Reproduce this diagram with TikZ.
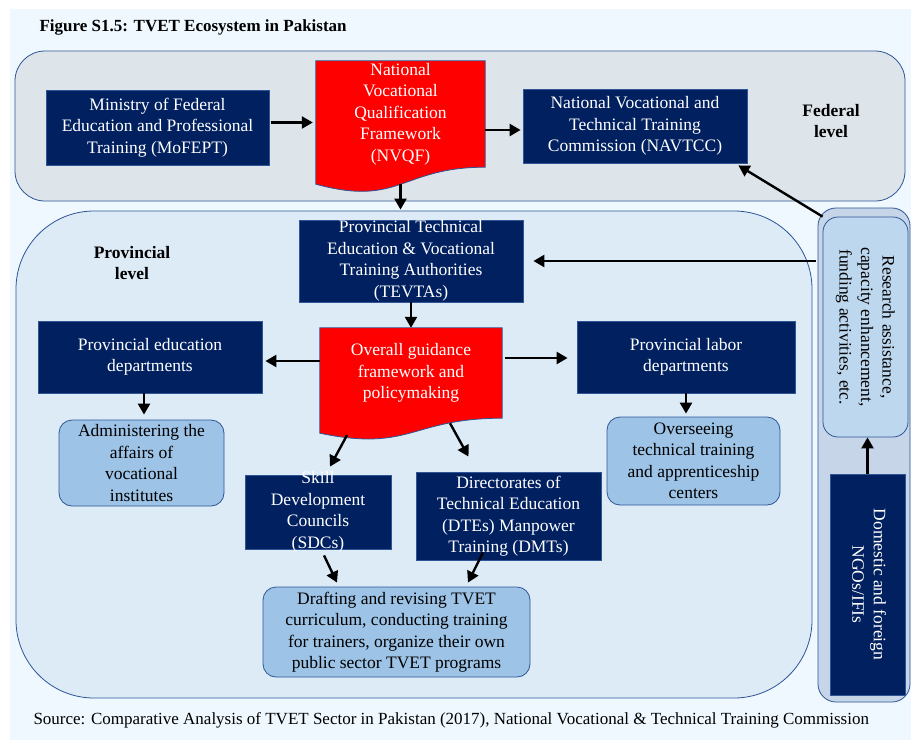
\documentclass[tikz,border=0pt]{standalone}
\usepackage{fontspec}
\setmainfont{Liberation Serif}
\usepackage{xcolor}
\usetikzlibrary{positioning, calc, arrows.meta}

\definecolor{navy}{HTML}{002060}
\definecolor{edgeblue}{HTML}{2F5597}
\definecolor{pagebg}{HTML}{EEF8FE}
\definecolor{fedbg}{HTML}{DEE5EA}
\definecolor{provbg}{HTML}{DDEBF7}
\definecolor{sidebg}{HTML}{C6D5E7}
\definecolor{softblue}{HTML}{9DC3E6}
\definecolor{paleblue}{HTML}{BDD7EE}

\pgfdeclarelayer{background}
\pgfsetlayers{background,main}

\begin{document}
\begin{tikzpicture}[x=1pt, y=-1pt,
	every node/.style={font=\fontsize{17.5}{21.5}\selectfont, align=center},
	darkbox/.style={draw=edgeblue, fill=navy, text=white, line width=0.8pt, inner sep=0pt},
	softbox/.style={draw=edgeblue, fill=softblue, rounded corners=13pt, line width=0.8pt, inner sep=0pt},
	docbox/.style={text=white, inner sep=0pt},
	docfill/.style={fill=red, draw=edgeblue, line width=0.8pt},
	levellabel/.style={font=\fontsize{17.5}{21.5}\selectfont\bfseries},
	arr/.style={-{Triangle[length=11pt, width=12pt]}, line width=2.4pt, black}]

	\useasboundingbox (0, 0) rectangle (911, 740);

	\begin{pgfonlayer}{background}
		\fill[pagebg] (10, 9) rectangle (911, 740);  % page
		\filldraw[fill=fedbg, draw=edgeblue, line width=0.8pt, rounded corners=30pt] (15, 51) rectangle (905, 201);  % federal
		\filldraw[fill=provbg, draw=edgeblue, line width=0.8pt, rounded corners=78pt] (16, 211) rectangle (812, 698);  % provincial
		\filldraw[fill=sidebg, draw=edgeblue, line width=0.8pt, rounded corners=18pt] (818, 208) rectangle (910, 702);  % outside support
	\end{pgfonlayer}

	\node[anchor=west, font=\fontsize{17}{20}\selectfont\bfseries] (title) at (36, 27) {Figure S1.5: TVET Ecosystem in Pakistan};

	% federal level
	\node[darkbox, minimum width=223pt, minimum height=75pt] (mofept) at (157.5, 127.5) {Ministry of Federal\\Education and Professional\\Training (MoFEPT)};
	\node[docbox, minimum width=169pt, minimum height=106pt] (nvqf) at (400.5, 114) {National\\Vocational\\Qualification\\Framework\\(NVQF)};
	\node[darkbox, minimum width=224pt, minimum height=74pt] (navtcc) at (635, 126) {National Vocational and\\Technical Training\\Commission (NAVTCC)};
	\node[levellabel] (fedlabel) at (831, 121) {Federal\\level};

	% provincial level
	\node[levellabel] (provlabel) at (132, 263) {Provincial\\level};
	\node[darkbox, minimum width=224pt, minimum height=82pt] (tevta) at (411, 261) {Provincial Technical\\Education \& Vocational\\Training Authorities\\(TEVTAs)};
	\node[docbox, minimum width=182pt, minimum height=90pt] (overall) at (411, 373) {Overall guidance\\framework and\\policymaking};
	\node[darkbox, minimum width=224pt, minimum height=72pt] (provedu) at (150, 357) {Provincial education\\departments};
	\node[darkbox, minimum width=218pt, minimum height=72pt] (provlab) at (686, 357) {Provincial labor\\departments};
	\node[softbox, minimum width=165pt, minimum height=86pt] (admin) at (141.5, 463) {Administering the\\affairs of\\vocational\\institutes};
	\node[softbox, minimum width=173pt, minimum height=88pt] (overs) at (693.5, 461) {Overseeing\\technical training\\and apprenticeship\\centers};
	\node[darkbox, inner ysep=-4pt, minimum width=146pt, minimum height=74pt] (sdc) at (318, 512) {Skill\\Development\\Councils\\(SDCs)};
	\node[darkbox, minimum width=185pt, minimum height=88pt] (dte) at (508.5, 516) {Directorates of\\Technical Education\\(DTEs) Manpower\\Training (DMTs)};
	\node[softbox, minimum width=267pt, minimum height=90pt] (draft) at (396.5, 632) {Drafting and revising TVET\\curriculum, conducting training\\for trainers, organize their own\\public sector TVET programs};

	% outside support
	\node[draw=edgeblue, fill=paleblue, rounded corners=15pt, line width=0.8pt, inner sep=0pt, minimum width=85pt, minimum height=220pt] (research) at (865.5, 327)
		{\rotatebox{-90}{\begin{tabular}{@{}c@{}}Research assistance,\\capacity enhancement,\\funding activities, etc.\end{tabular}}};
	\node[darkbox, minimum width=75pt, minimum height=221pt] (ngo) at (867.5, 584.5)
		{\rotatebox{-90}{\begin{tabular}{@{}c@{}}Domestic and foreign\\NGOs/IFIs\end{tabular}}};

	\node[anchor=west, font=\fontsize{17}{20}\selectfont] (source) at (30, 720) {Source: Comparative Analysis of TVET Sector in Pakistan (2017), National Vocational \& Technical Training Commission};

	\begin{pgfonlayer}{background}
		\draw[docfill] (nvqf.north west) -- (nvqf.north east) -- (nvqf.south east) .. controls (nvqf.south) and ($(nvqf.south)+(0, 40)$) .. ($(nvqf.south west)+(0, 17)$) -- cycle;
		\draw[docfill] (overall.north west) -- (overall.north east) -- (overall.south east) .. controls (overall.south) and ($(overall.south)+(0, 34)$) .. ($(overall.south west)+(0, 15)$) -- cycle;
	\end{pgfonlayer}

	\draw[arr] ($(mofept.east)+(2, -5)$) -- ($(mofept.east -| nvqf.west)+(-3, -5)$);
	\draw[arr] ($(navtcc.west -| nvqf.east)+(0, 4)$) -- ($(navtcc.west)+(-2, 4)$);
	\draw[arr] ($(nvqf.south)+(0, 17)$) -- ($(nvqf.south |- tevta.north)+(0, -10)$);
	\draw[arr] (research.north west) -- ($(navtcc.south east)+(-9, 2)$);
	\draw[arr] ($(research.west |- tevta.east)+(-7, 0)$) -- ($(tevta.east)+(10, 0)$);
	\draw[arr] (ngo.north) -- (ngo.north |- research.south);
	\draw[arr] (tevta.south) -- (overall.north);
	\draw[arr] ($(overall.west)+(0, -12)$) -- ($(provedu.east |- overall.west)+(3, -12)$);
	\draw[arr] ($(overall.east)+(3, -15)$) -- ($(provlab.west |- overall.east)+(-9, -15)$);
	\draw[arr] ($(admin.north |- provedu.south)+(2.5, 0)$) -- ($(admin.north)+(2.5, -5)$);
	\draw[arr] (provlab.south) -- ($(provlab.south |- overs.north)+(0, -3)$);
	\draw[arr] ($(overall.south)+(-64, 17)$) -- ($(sdc.north)+(12, -8)$);
	\draw[arr] ($(overall.south)+(39, 5)$) -- ($(dte.north)+(-40, -15)$);
	\draw[arr] ($(sdc.south)+(6, 6)$) -- ($(draft.north)+(-59.5, -4)$);
	\draw[arr] ($(dte.south)+(-25.5, -8)$) -- ($(draft.north)+(71.5, -4)$);

\end{tikzpicture}
\end{document}
